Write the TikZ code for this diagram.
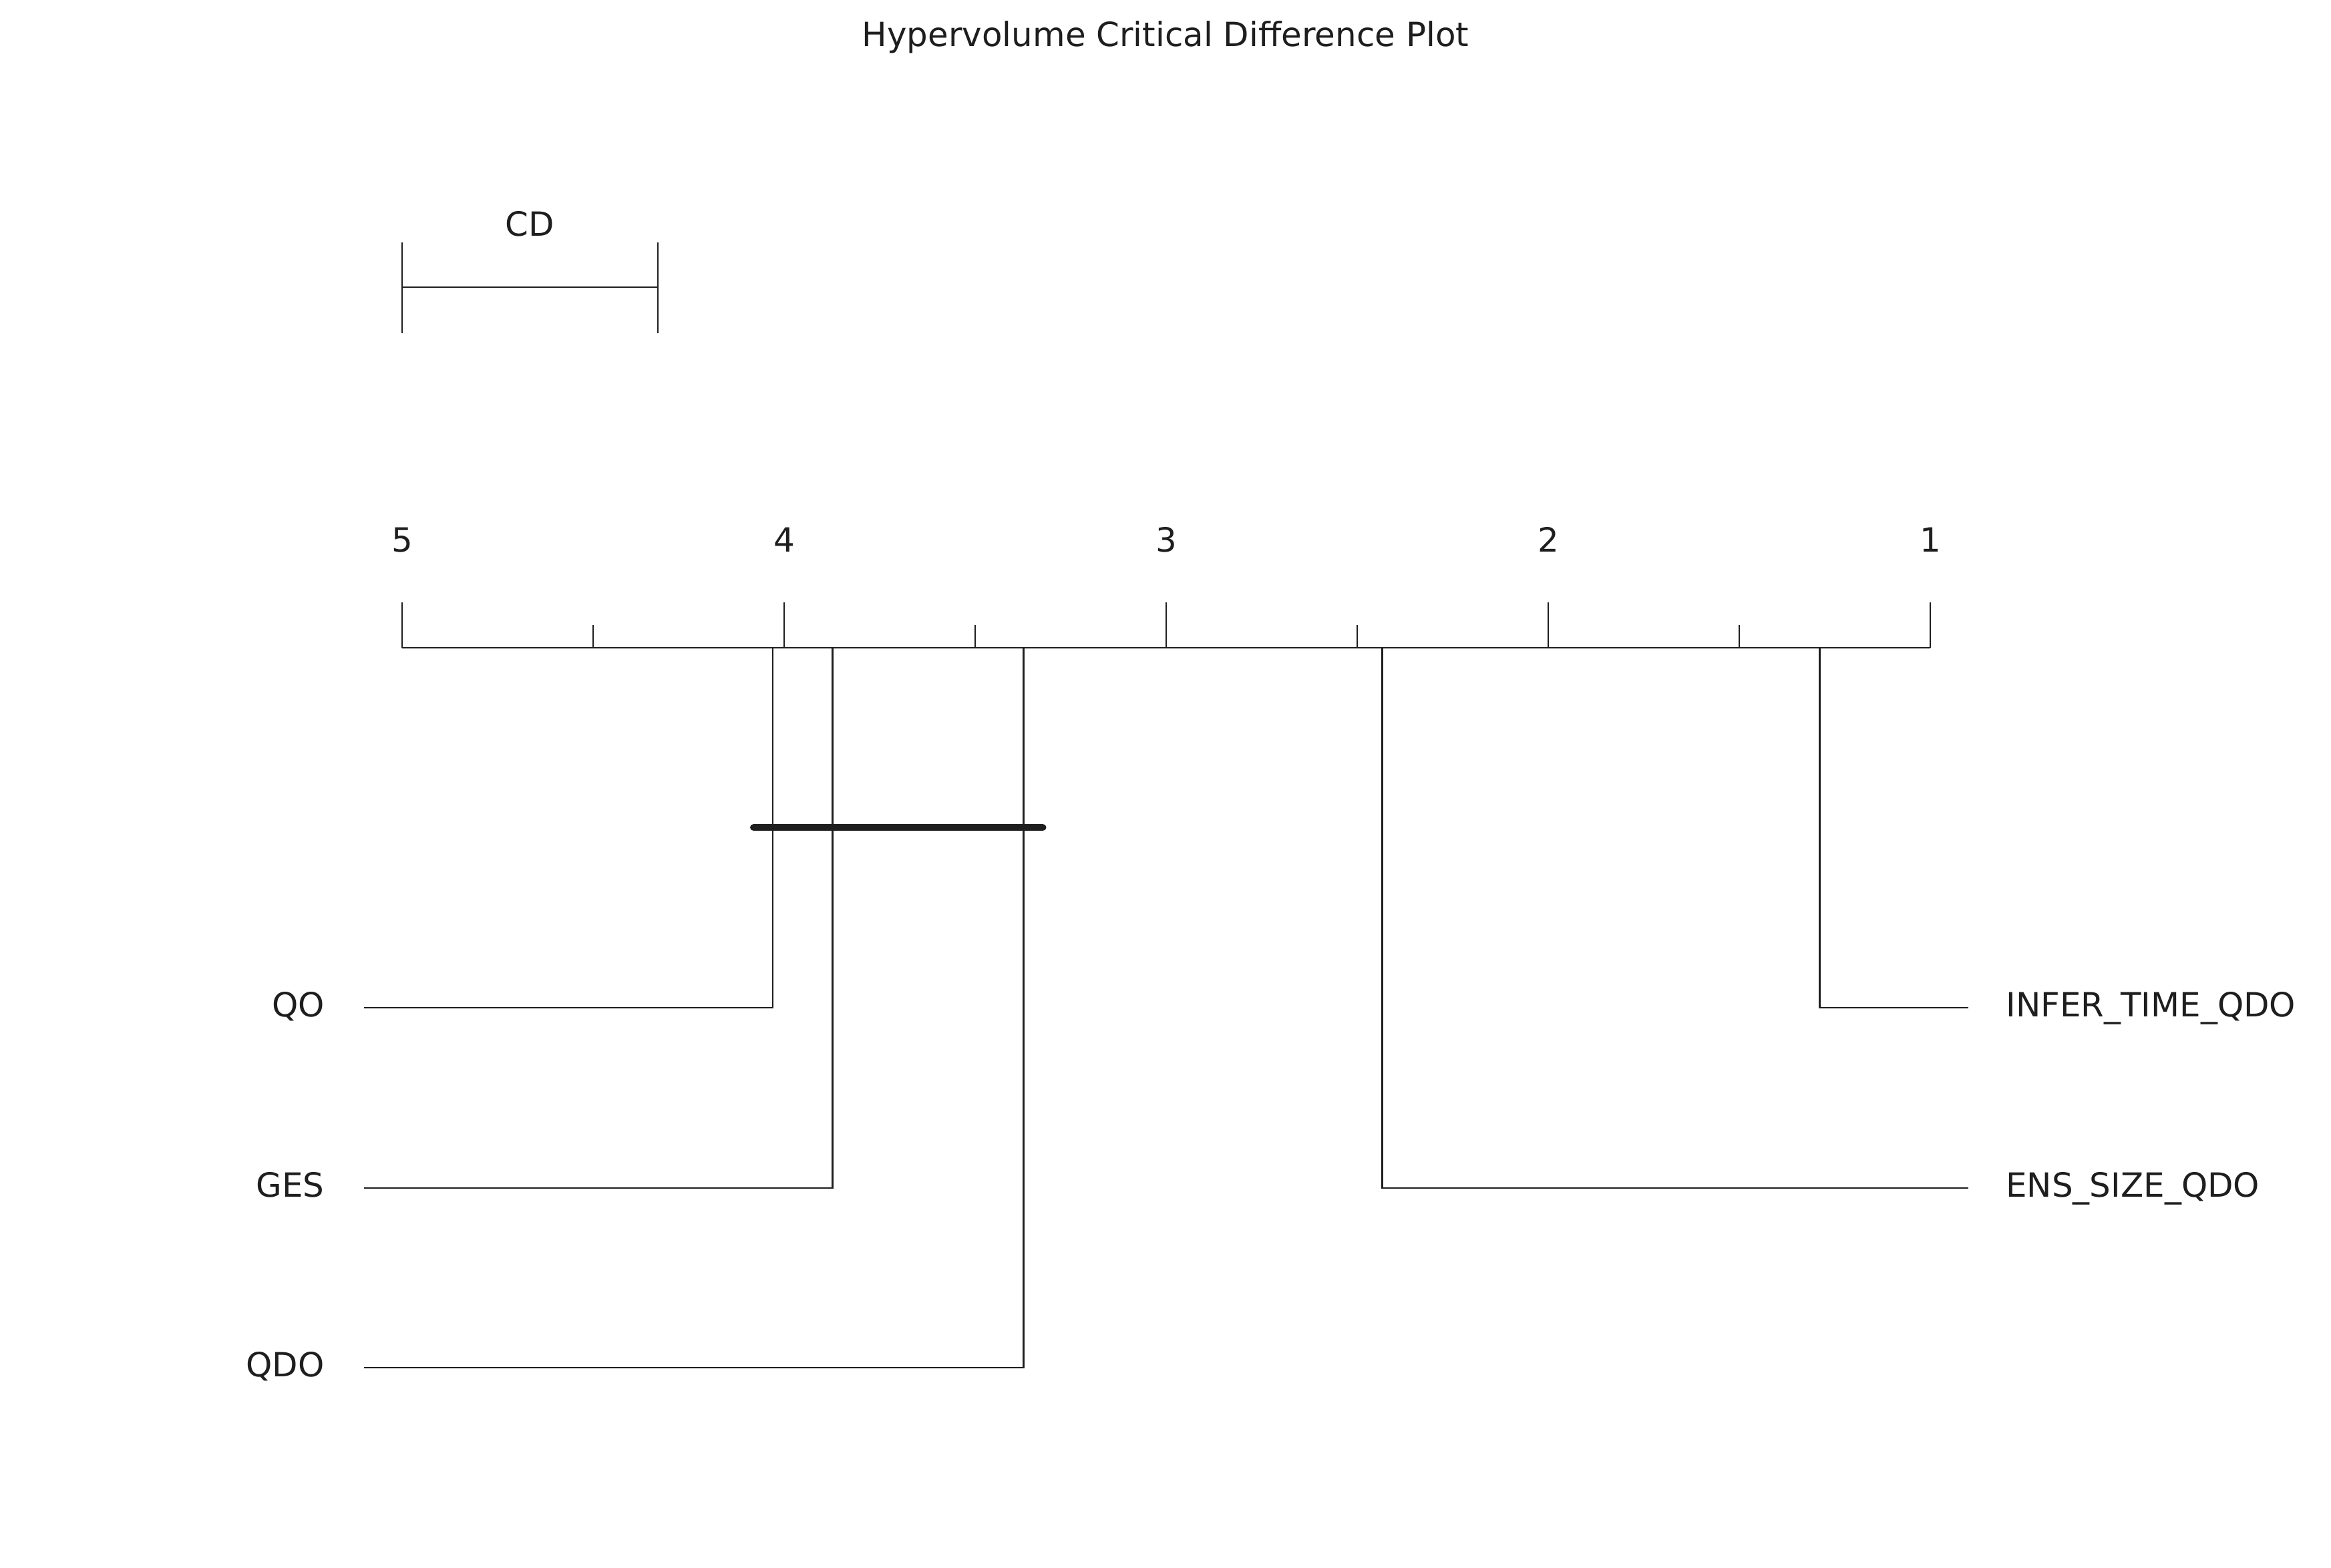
\documentclass[tikz,border=0pt]{standalone}
\usepackage{fontspec}
\setmainfont{DejaVu Sans}
\usepackage{tikz}
\usetikzlibrary{calc}
\definecolor{ink}{RGB}{30,30,30}

\begin{document}
\begin{tikzpicture}[line width=0.77pt, ink, every node/.style={text=ink, inner sep=0pt, font=\fontsize{14.2}{17}\selectfont}]
        \useasboundingbox (0,0) rectangle (34.90,-23.48);

        % Title
        \node[anchor=base] (title) at (17.45,-0.70) {Hypervolume Critical Difference Plot};

        % Critical difference bar
        \draw (6.02,-4.30) -- (9.85,-4.30);
        \draw (6.02,-3.63) -- (6.02,-4.99);
        \draw (9.85,-3.63) -- (9.85,-4.99);
        \node[anchor=base] (cd) at (7.935,-3.54) {CD};

        % Rank axis: x is the average rank, 5 on the left and 1 on the right
        \begin{scope}[x=-5.72cm, xshift=34.62cm]
        \draw (5,-9.70) -- (1,-9.70);

        % Major and minor ticks
        \draw (5,-9.70) -- (5,-9.02);
        \draw (4,-9.70) -- (4,-9.02);
        \draw (3,-9.70) -- (3,-9.02);
        \draw (2,-9.70) -- (2,-9.02);
        \draw (1,-9.70) -- (1,-9.02);
        \draw (4.5,-9.70) -- (4.5,-9.36);
        \draw (3.5,-9.70) -- (3.5,-9.36);
        \draw (2.5,-9.70) -- (2.5,-9.36);
        \draw (1.5,-9.70) -- (1.5,-9.36);

        % Tick labels
        \node[anchor=base] (t5) at (5,-8.27) {5};
        \node[anchor=base] (t4) at (4,-8.27) {4};
        \node[anchor=base] (t3) at (3,-8.27) {3};
        \node[anchor=base] (t2) at (2,-8.27) {2};
        \node[anchor=base] (t1) at (1,-8.27) {1};

        % Methods on the left
        \draw (4.03,-9.70) |- (5.10,-15.09);
        \draw (3.873,-9.70) |- (5.10,-17.79);
        \draw (3.373,-9.70) |- (5.10,-20.48);

        % Methods on the right
        \draw (1.289,-9.70) |- (0.90,-15.09);
        \draw (2.435,-9.70) |- (0.90,-17.79);

        % Group of methods with no significant difference
        \draw[line width=3pt, line cap=round] (4.08,-12.39) -- (3.323,-12.39);
        \end{scope}

        % Method names
        \node[anchor=base east] (qo) at (4.87,-15.225) {QO};
        \node[anchor=base east] (ges) at (4.87,-17.925) {GES};
        \node[anchor=base east] (qdo) at (4.87,-20.615) {QDO};
        \node[anchor=base west] (infer) at (30.02,-15.225) {INFER\_TIME\_QDO};
        \node[anchor=base west] (ens) at (30.02,-17.925) {ENS\_SIZE\_QDO};

    \end{tikzpicture}
\end{document}
